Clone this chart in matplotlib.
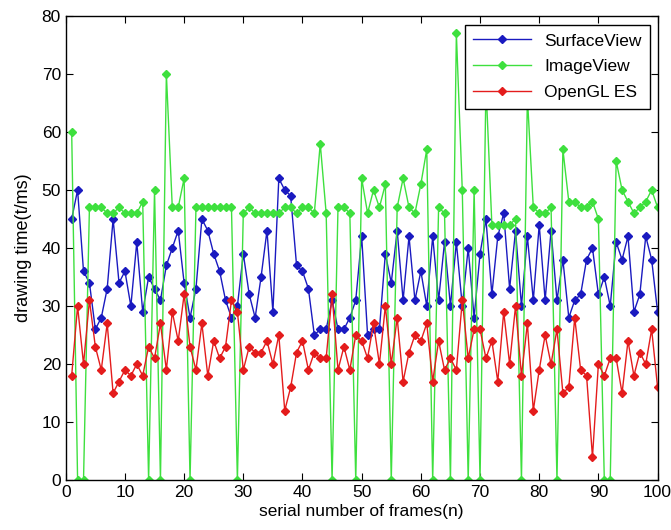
import numpy as np
import matplotlib.pyplot as plt

frames = np.arange(1, 101)

surface_view = [45, 50, 36, 34, 26, 28, 33, 45, 34, 36,
                30, 41, 29, 35, 33, 31, 37, 40, 43, 34,
                28, 33, 45, 43, 39, 36, 31, 28, 30, 39,
                32, 28, 35, 43, 29, 52, 50, 49, 37, 36,
                33, 25, 26, 26, 31, 26, 26, 28, 31, 42,
                25, 26, 26, 39, 34, 43, 31, 42, 31, 36,
                30, 42, 31, 41, 30, 41, 30, 40, 28, 39,
                45, 32, 42, 46, 33, 43, 30, 42, 31, 44,
                31, 43, 31, 38, 28, 31, 32, 38, 40, 32,
                35, 30, 41, 38, 42, 29, 32, 42, 38, 29]

image_view = [60, 0, 0, 47, 47, 47, 46, 46, 47, 46,
              46, 46, 48, 0, 50, 0, 70, 47, 47, 52,
              0, 47, 47, 47, 47, 47, 47, 47, 0, 46,
              47, 46, 46, 46, 46, 46, 47, 47, 46, 47,
              47, 46, 58, 46, 0, 47, 47, 46, 0, 52,
              46, 50, 47, 51, 0, 47, 52, 47, 46, 51,
              57, 0, 47, 46, 0, 77, 50, 0, 50, 0,
              68, 44, 44, 44, 44, 45, 0, 66, 47, 46,
              46, 47, 0, 57, 48, 48, 47, 47, 48, 45,
              0, 0, 55, 50, 48, 46, 47, 48, 50, 47]

opengl_es = [18, 30, 20, 31, 23, 19, 27, 15, 17, 19,
             18, 20, 18, 23, 21, 27, 19, 29, 24, 32,
             23, 19, 27, 18, 24, 21, 23, 31, 29, 19,
             23, 22, 22, 24, 20, 25, 12, 16, 22, 24,
             19, 22, 21, 21, 32, 19, 23, 19, 25, 24,
             21, 27, 20, 30, 20, 28, 17, 22, 25, 24,
             27, 17, 24, 19, 21, 19, 31, 21, 26, 26,
             21, 24, 17, 29, 20, 30, 18, 27, 12, 19,
             25, 20, 26, 15, 16, 28, 19, 18, 4, 20,
             18, 21, 21, 15, 24, 18, 22, 20, 26, 16]

plt.rcParams['font.family'] = ['Liberation Sans', 'DejaVu Sans']

fig = plt.figure(figsize=(6.71, 5.30), dpi=100)
ax = fig.add_axes([0.098, 0.094, 0.882, 0.876])

ax.plot(frames, surface_view, color='#1a1ac0', marker='D', markersize=3.6,
        linewidth=1, label='SurfaceView')
ax.plot(frames, image_view, color='#3ee03e', marker='D', markersize=3.6,
        linewidth=1, label='ImageView')
ax.plot(frames, opengl_es, color='#e41c1c', marker='D', markersize=3.6,
        linewidth=1, label='OpenGL ES')

ax.set_xlim(0, 100)
ax.set_ylim(0, 80)
ax.set_xticks(range(0, 101, 10))
ax.set_yticks(range(0, 81, 10))
ax.tick_params(direction='in', top=True, right=True, length=5, labelsize=12.5)
for s in ax.spines.values():
    s.set_linewidth(1)

ax.set_xlabel('serial number of frames(n)', fontsize=12.5, labelpad=3)
ax.set_ylabel('drawing time(t/ms)', fontsize=13, labelpad=7)

leg = ax.legend(loc='upper right', bbox_to_anchor=(0.988, 0.981), borderaxespad=0,
                fancybox=False, framealpha=1, edgecolor='black', fontsize=12.5,
                handlelength=3.3, borderpad=0.5, labelspacing=0.62)
leg.get_frame().set_linewidth(1)

fig.savefig('out.png', dpi=100)
